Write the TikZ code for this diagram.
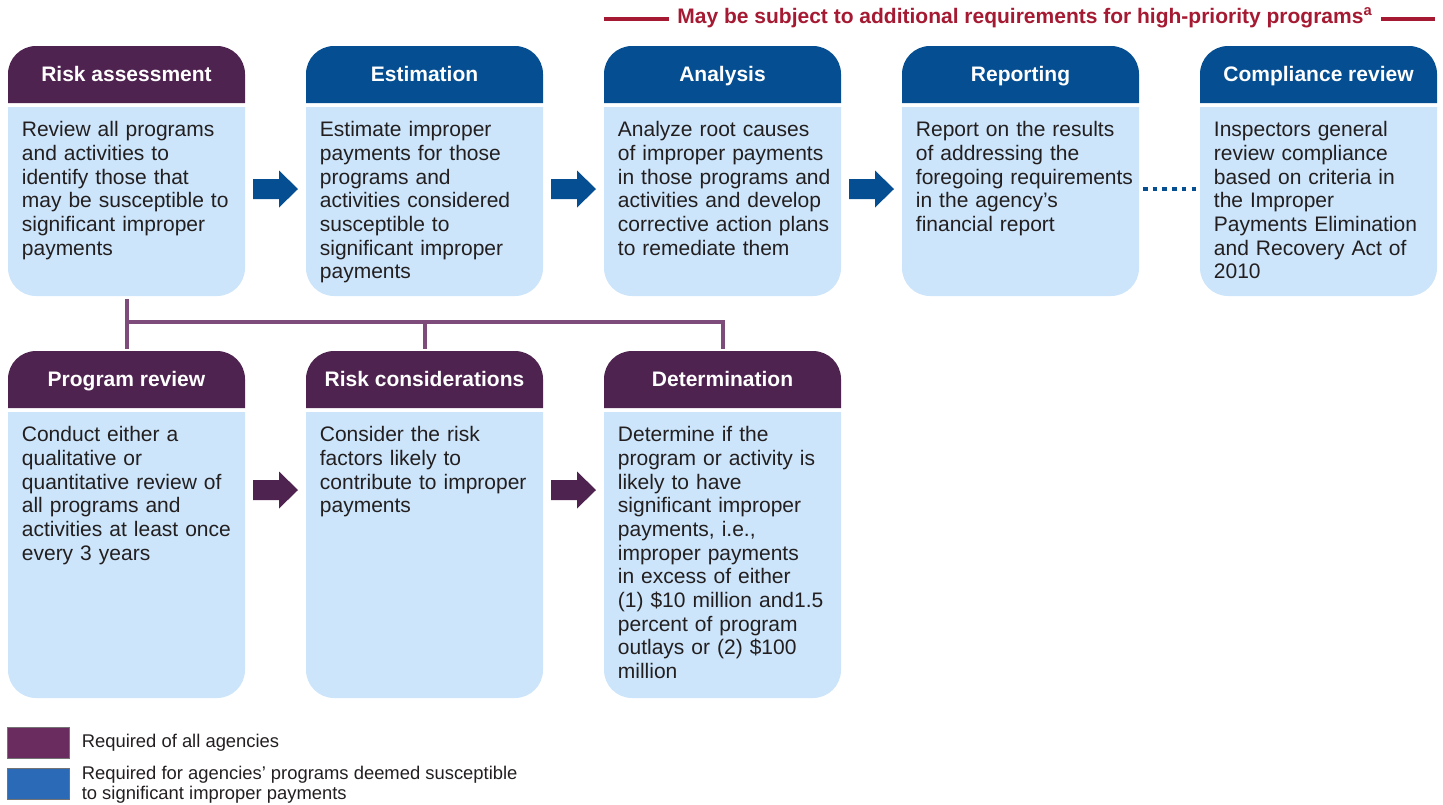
\documentclass[tikz,border=0pt]{standalone}
\usepackage{fontspec}
\setmainfont{Liberation Sans}
\usetikzlibrary{calc,positioning}

\definecolor{hdrpurple}{HTML}{4F2350}
\definecolor{hdrblue}{HTML}{044E91}
\definecolor{bodyblue}{HTML}{CCE5FA}
\definecolor{linkpurple}{HTML}{7D4C7B}
\definecolor{notered}{HTML}{A51A32}
\definecolor{keypurple}{HTML}{6A2B5E}
\definecolor{keyblue}{HTML}{2A6AB7}
\definecolor{txtgray}{HTML}{231F20}

\tikzset{
  cardtitle/.style={anchor=base, text=white, inner sep=0pt, font=\bfseries\fontsize{10.5}{12}\selectfont},
  cardtext/.style={anchor=north west, text width=112pt, align=left, inner sep=0pt,
    text=txtgray, font=\fontsize{10.5}{11.85}\selectfont},
  tree/.style={linkpurple, line width=2pt},
  keytext/.style={text=txtgray, inner sep=0pt, align=left, font=\fontsize{9.2}{10}\selectfont},
}

%% one card: #1 name, #2 left x, #3 top y, #4 bottom y, #5 colour, #6 title, #7 text
\newcommand{\card}[7]{%
  \fill[#5] (#2,#3+57) [rounded corners=14pt] -- (#2,#3) -- (#2+237,#3) [sharp corners] -- (#2+237,#3+57) -- cycle;
  \fill[bodyblue] (#2,#3+61) [rounded corners=14pt] -- (#2,#4) -- (#2+237,#4) [sharp corners] -- (#2+237,#3+61) -- cycle;
  \node[cardtitle] (#1h) at (#2+118.5,#3+35.5) {#6};
  \node[cardtext] (#1) at (#2+13.5,#3+75) {#7};
  \coordinate (#1top) at (#2+118.5,#3);
  \coordinate (#1bot) at (#2+118.5,#4);
}

\begin{document}
\begin{tikzpicture}[x=0.5pt,y=-0.5pt]
\useasboundingbox (0,0) rectangle (1443,804);

%% note on top
\node[anchor=west, inner sep=4pt, text=notered, font=\bfseries\fontsize{10.5}{12}\selectfont]
  (note) at (669,18) {May be subject to additional requirements for high-priority programs\textsuperscript{a}};
\coordinate (noteA) at (604,19);
\coordinate (noteB) at (1435,19);
\draw[notered, line width=2.4pt] (noteA) -- (noteA -| note.west);
\draw[notered, line width=2.4pt] (noteB -| note.east) -- (noteB);

%% top row
\card{ra}{8}{46}{296}{hdrpurple}{Risk assessment}{Review all programs\\and activities to\\identify those that\\may be susceptible to\\significant improper\\payments}
\card{est}{306}{46}{296}{hdrblue}{Estimation}{Estimate improper\\payments for those\\programs and\\activities considered\\susceptible to\\significant improper\\payments}
\card{ana}{604}{46}{296}{hdrblue}{Analysis}{Analyze root causes\\of improper payments\\in those programs and\\activities and develop\\corrective action plans\\to remediate them}
\card{rep}{902}{46}{296}{hdrblue}{Reporting}{Report on the results\\of addressing the\\foregoing requirements\\in the agency’s\\financial report}
\card{comp}{1200}{46}{296}{hdrblue}{Compliance review}{Inspectors general\\review compliance\\based on criteria in\\the Improper\\Payments Elimination\\and Recovery Act of\\2010}

%% bottom row
\card{pr}{8}{351}{698}{hdrpurple}{Program review}{Conduct either a\\qualitative or\\quantitative review of\\all programs and\\activities at least once\\every 3 years}
\card{rc}{306}{351}{698}{hdrpurple}{Risk considerations}{Consider the risk\\factors likely to\\contribute to improper\\payments}
\card{det}{604}{351}{698}{hdrpurple}{Determination}{Determine if the\\program or activity is\\likely to have\\significant improper\\payments, i.e.,\\improper payments\\in excess of either\\(1) \$10 million and1.5\\percent of program\\outlays or (2) \$100\\million}

%% block arrows
\foreach \ax/\ay/\ac in {253/189/hdrblue,551/189/hdrblue,849/189/hdrblue,253/490/hdrpurple,551/490/hdrpurple}
  \fill[\ac] (\ax,\ay-10) -- (\ax+26,\ay-10) -- (\ax+26,\ay-18.5) -- (\ax+45,\ay)
    -- (\ax+26,\ay+18.5) -- (\ax+26,\ay+10) -- (\ax,\ay+10) -- cycle;

%% dotted link to compliance review
\coordinate (dotA) at (1143,189);
\coordinate (dotB) at (1197,189);
\draw[hdrblue, line width=2pt, dash pattern=on 2.3pt off 2.55pt] (dotA) -- (dotB);

%% tree from risk assessment
\draw[tree] ($(rabot)+(0,3)$) |- ($(dettop)+(0,-29)$) -- ($(dettop)+(0,-2)$);
\draw[tree] ($(prtop)+(0,-29)$) -- ($(prtop)+(0,-2)$);
\draw[tree] ($(rctop)+(0,-29)$) -- ($(rctop)+(0,-2)$);

%% key
\node[fill=keypurple, draw=black!55, line width=0.4pt, minimum width=31pt, minimum height=15.5pt, inner sep=0pt] (keyall) at (38,743) {};
\node[keytext, right=6pt of keyall] (keyalltext) {Required of all agencies};
\node[fill=keyblue, draw=black!55, line width=0.4pt, minimum width=31pt, minimum height=15.5pt, inner sep=0pt] (keysus) at (38,784) {};
\node[keytext, right=6pt of keysus, yshift=-0.5pt] (keysustext) {Required for agencies’ programs deemed susceptible\\to significant improper payments};
\end{tikzpicture}
\end{document}
